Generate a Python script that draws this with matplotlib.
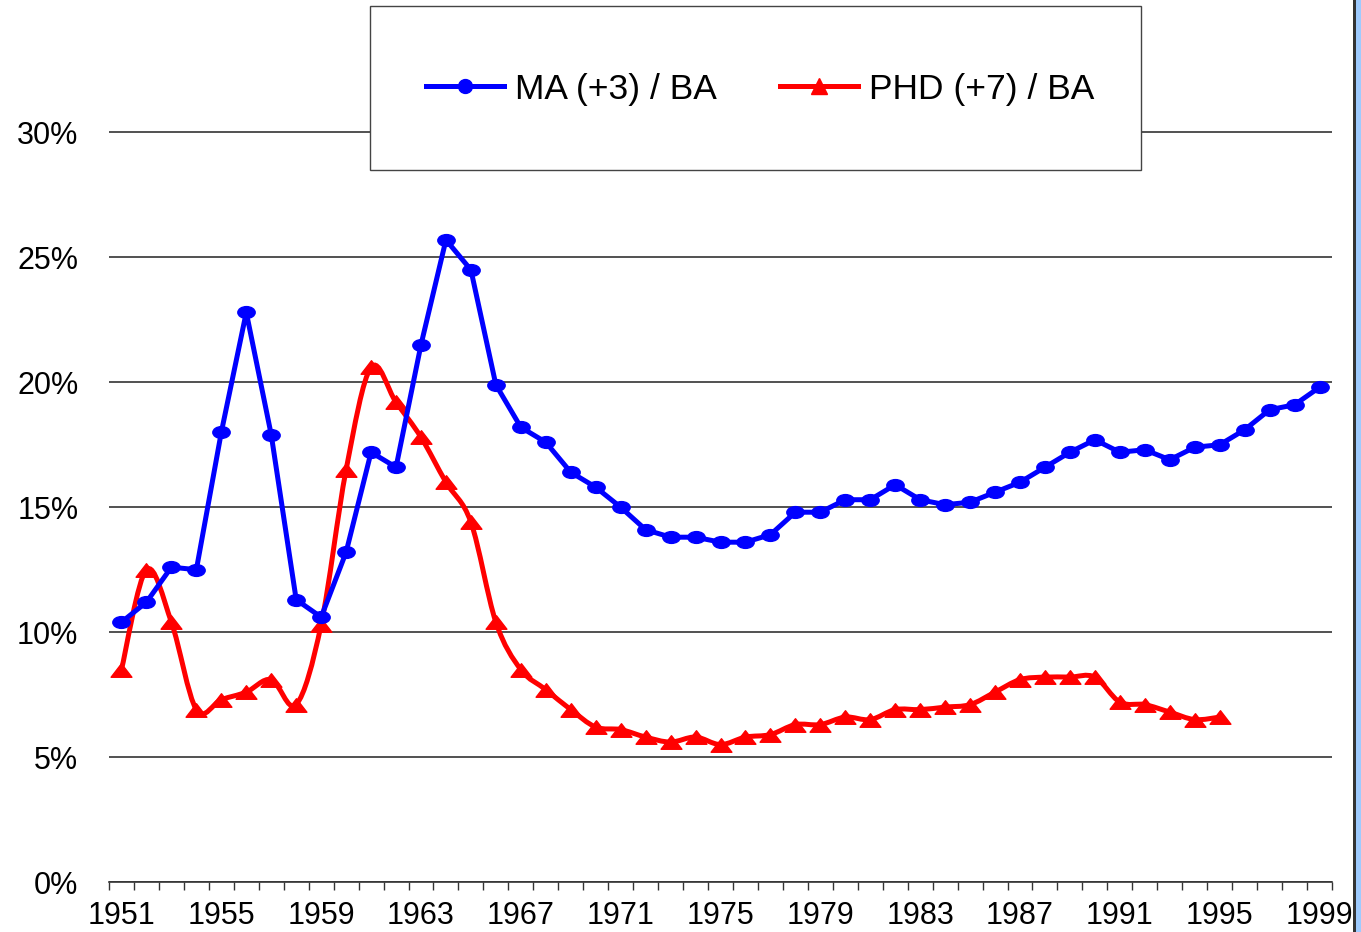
import numpy as np
import matplotlib
matplotlib.use("Agg")
import matplotlib.pyplot as plt
from matplotlib.path import Path
from matplotlib.patches import Rectangle, PathPatch
from matplotlib.ticker import FixedLocator, FuncFormatter

# Ratio of graduates (MA 3 years later, PhD 7 years later) to BA, by BA year
years = list(range(1951, 2000))
ma_ba = [10.4, 11.2, 12.6, 12.5, 18.0, 22.8, 17.9, 11.3, 10.6, 13.2,
         17.2, 16.6, 21.5, 25.7, 24.5, 19.9, 18.2, 17.6, 16.4, 15.8,
         15.0, 14.1, 13.8, 13.8, 13.6, 13.6, 13.9, 14.8, 14.8, 15.3,
         15.3, 15.9, 15.3, 15.1, 15.2, 15.6, 16.0, 16.6, 17.2, 17.7,
         17.2, 17.3, 16.9, 17.4, 17.5, 18.1, 18.9, 19.1, 19.8]
phd_years = list(range(1951, 1996))
phd_ba = [8.5, 12.5, 10.4, 6.9, 7.3, 7.6, 8.1, 7.1, 10.3, 16.5,
          20.6, 19.2, 17.8, 16.0, 14.4, 10.4, 8.5, 7.7, 6.9, 6.2,
          6.1, 5.8, 5.6, 5.8, 5.5, 5.8, 5.9, 6.3, 6.3, 6.6,
          6.5, 6.9, 6.9, 7.0, 7.1, 7.6, 8.1, 8.2, 8.2, 8.2,
          7.2, 7.1, 6.8, 6.5, 6.6]
tick_years = list(range(1951, 2000, 4))

W, H = 1361, 932
fig = plt.figure(figsize=(W / 100, H / 100), dpi=100)
ax = fig.add_axes([109 / W, 1 - 882 / H, (1332 - 109) / W, 882 / H])

# stretched markers like the Excel original
ell = Path.unit_circle().transformed(matplotlib.transforms.Affine2D().scale(1.0, 0.68))
tri = Path([(-1, -0.65), (1, -0.65), (0, 0.65), (-1, -0.65)],
           [Path.MOVETO, Path.LINETO, Path.LINETO, Path.CLOSEPOLY])

ax.plot(years, ma_ba, color="#0000ff", lw=3.6, marker=ell, markersize=12.5,
        zorder=4)


# smoothed red line (Catmull-Rom -> Bezier), markers on data points
def smooth_path(x, y, t=1 / 6):
    x = np.asarray(x, float)
    y = np.asarray(y, float)
    verts = [(x[0], y[0])]
    codes = [Path.MOVETO]
    n = len(x)
    for i in range(n - 1):
        x0, y0 = (x[i - 1], y[i - 1]) if i > 0 else (x[i], y[i])
        x3, y3 = (x[i + 2], y[i + 2]) if i + 2 < n else (x[i + 1], y[i + 1])
        c1 = (x[i] + (x[i + 1] - x0) * t, y[i] + (y[i + 1] - y0) * t)
        c2 = (x[i + 1] - (x3 - x[i]) * t, y[i + 1] - (y3 - y[i]) * t)
        verts += [c1, c2, (x[i + 1], y[i + 1])]
        codes += [Path.CURVE4] * 3
    return Path(verts, codes)


ax.add_patch(PathPatch(smooth_path(phd_years, phd_ba), fill=False,
                       edgecolor="#ff0000", lw=3.6, zorder=3))
ax.plot(phd_years, phd_ba, linestyle="none", color="#ff0000", marker=tri,
        markersize=15, zorder=3)

ax.set_xlim(1950.5, 1999.5)
ax.set_ylim(0, 35.3)

ax.set_yticks([0, 5, 10, 15, 20, 25, 30])
ax.yaxis.set_major_formatter(FuncFormatter(lambda v, p: f"{v:.0f}%"))
ax.yaxis.grid(True, color="#222222", lw=1.1)
ax.set_axisbelow(True)
ax.tick_params(axis="y", length=0, pad=22, labelsize=22)
for lab in ax.get_yticklabels():
    lab.set_fontfamily("Liberation Sans")

ax.xaxis.set_major_locator(FixedLocator(tick_years))
ax.xaxis.set_minor_locator(FixedLocator(np.arange(1950.5, 2000, 1)))
ax.tick_params(axis="x", which="major", length=0, pad=14, labelsize=22)
ax.tick_params(axis="x", which="minor", length=6, width=1, color="#333333",
               direction="out")
for lab in ax.get_xticklabels():
    lab.set_fontfamily("Liberation Sans")

for s in ["top", "right", "left"]:
    ax.spines[s].set_visible(False)
ax.spines["bottom"].set_color("#333333")
ax.spines["bottom"].set_linewidth(1.2)

# legend box
fig.add_artist(Rectangle((370 / W, 1 - 170 / H), 771 / W, 164 / H,
                         transform=fig.transFigure, facecolor="white",
                         edgecolor="#444444", lw=1, zorder=4))
h1, = ax.plot([], [], color="#0000ff", lw=3.6, marker="o", markersize=10)
h2, = ax.plot([], [], color="#ff0000", lw=3.6, marker="^", markersize=12)
leg = fig.legend([h1, h2], ["MA (+3) / BA", "PHD (+7) / BA"], ncol=2,
                 loc="center", bbox_to_anchor=(760 / W, 1 - 89 / H),
                 frameon=False, handlelength=2.2, handletextpad=0.3,
                 columnspacing=1.8, prop={"family": "Liberation Sans", "size": 25.5})
leg.set_zorder(5)

# right window edge strip
fig.add_artist(Rectangle((1354 / W, 0), 7 / W, 1, transform=fig.transFigure,
                         facecolor="#9ecbff", edgecolor="none", zorder=6))
fig.add_artist(Rectangle((1353 / W, 0), 2.5 / W, 1, transform=fig.transFigure,
                         facecolor="#333333", edgecolor="none", zorder=6))

fig.savefig("out.png", dpi=100)
